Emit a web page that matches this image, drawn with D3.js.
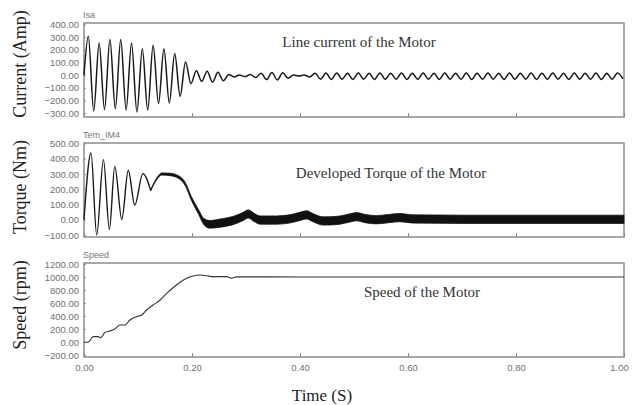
<!DOCTYPE html>
<html>
<head>
<meta charset="utf-8">
<script src="https://cdn.jsdelivr.net/npm/d3@7"></script>
<style>
  body { margin: 0; background: #fff; }
  svg { display: block; }
</style>
</head>
<body>
<div id="chart"></div>
<script>
// time axis
var timeTicks = [0, 0.2, 0.4, 0.6, 0.8, 1.0];

// line current Isa: extremes of each half cycle
var isaT = [0, 0.008, 0.018, 0.028, 0.038, 0.048, 0.058, 0.068, 0.078, 0.088, 0.098,
  0.108, 0.118, 0.128, 0.138, 0.148, 0.158, 0.168, 0.178, 0.188, 0.198,
  0.208, 0.218, 0.228, 0.238, 0.248, 0.258, 0.268, 0.278, 0.288, 0.298,
  0.308, 0.318, 0.328, 0.338, 0.348, 0.358, 0.368, 0.378, 0.388, 0.398,
  0.408, 0.418, 0.428, 0.438, 0.448, 0.458, 0.468, 0.478, 0.488, 0.498,
  0.508, 0.518, 0.528, 0.538, 0.548, 0.558, 0.568, 0.578, 0.588, 0.598,
  0.608, 0.618, 0.628, 0.638, 0.648, 0.658, 0.668, 0.678, 0.688, 0.698,
  0.708, 0.718, 0.728, 0.738, 0.748, 0.758, 0.768, 0.778, 0.788, 0.798,
  0.808, 0.818, 0.828, 0.838, 0.848, 0.858, 0.868, 0.878, 0.888, 0.898,
  0.908, 0.918, 0.928, 0.938, 0.948, 0.958, 0.968, 0.978, 0.988, 0.998];
var isaV = [0, 305, -283, 253, -272, 280, -265, 280, -276, 253, -290,
  208, -276, 234, -224, 208, -220, 170, -166, 103, -67,
  35, -50, 30, -55, 22, -45, 5, -15, 0, -12,
  5, -20, 15, -35, 20, -38, 18, -25, 0, -8,
  0, -15, 14, -32, 16, -34, 17, -33, 15, -34,
  16, -32, 14, -34, 17, -33, 15, -32, 16, -34,
  15, -33, 17, -32, 14, -34, 16, -33, 15, -32,
  17, -34, 15, -33, 16, -32, 14, -34, 17, -33,
  15, -32, 16, -34, 15, -33, 17, -32, 14, -34,
  16, -33, 15, -32, 17, -34, 15, -33, 16, -30];
var isaTicks = [-300, -200, -100, 0, 100, 200, 300, 400];

// developed torque: start-up oscillation, then the thick ripple band
var tqT = [0, 0.013, 0.0235, 0.036, 0.047, 0.057, 0.07, 0.082, 0.094, 0.109, 0.1235];
var tqV = [0, 437, -100, 394, -63, 350, 2, 324, 96, 302, 193];
var bandT = [0.1235, 0.135, 0.144, 0.159, 0.175, 0.187, 0.199, 0.212, 0.222, 0.233,
  0.252, 0.276, 0.295, 0.304, 0.315, 0.326, 0.357, 0.38, 0.4, 0.412,
  0.425, 0.443, 0.47, 0.495, 0.505, 0.52, 0.541, 0.565, 0.585, 0.61,
  0.7, 0.8, 0.9, 1.0];
var bandMid = [193, 270, 300, 297, 280, 237, 139, 52, -12, -30,
  -22, -5, 22, 38, 15, -2, -2, 5, 22, 32,
  12, -8, -4, 14, 20, 8, 0, 8, 14, 5,
  3, 3, 3, 3];
var bandHalf = [4, 6, 7, 8, 9, 10, 12, 15, 20, 25,
  27, 27, 27, 27, 27, 27, 27, 27, 27, 27,
  27, 27, 27, 27, 27, 27, 27, 27, 27, 27,
  27, 27, 27, 27];
var tqTicks = [-100, 0, 100, 200, 300, 400, 500];

// rotor speed
var spT = [0, 0.004, 0.009, 0.017, 0.0265, 0.031, 0.039, 0.048, 0.057, 0.0667, 0.076,
  0.085, 0.0975, 0.107, 0.116, 0.128, 0.141, 0.153, 0.165, 0.178, 0.19,
  0.202, 0.215, 0.227, 0.239, 0.264, 0.273, 0.283, 0.4, 0.6, 0.8, 1.0];
var spV = [-5, -5, 5, 82, 82, 66, 149, 169, 200, 262, 262,
  338, 390, 415, 492, 569, 646, 749, 835, 918, 980,
  1015, 1031, 1020, 1005, 1005, 982, 1002, 1000, 1000, 1000, 1000];
var spTicks = [-200, 0, 200, 400, 600, 800, 1000, 1200];

var w = 632, h = 405;
var serif = "'Liberation Serif', 'Times New Roman', serif";
var sans = "'Liberation Sans', Arial, sans-serif";

var svg = d3.select("#chart").append("svg")
    .attr("width", w)
    .attr("height", h);

var x = d3.scaleLinear().domain([0, 1]).range([84, 624]);

var panels = [
  { top: 23, bottom: 117, domain: [-330, 410], ticks: isaTicks, name: "Isa",
    yTitle: "Current (Amp)", titleY: 64, note: "Line current of the Motor", noteX: 359, noteY: 47 },
  { top: 143, bottom: 237, domain: [-113, 503], ticks: tqTicks, name: "Tem_IM4",
    yTitle: "Torque (Nm)", titleY: 187, note: "Developed Torque of the Motor", noteX: 391, noteY: 178 },
  { top: 263, bottom: 357, domain: [-231, 1215], ticks: spTicks, name: "Speed",
    yTitle: "Speed (rpm)", titleY: 305, note: "Speed of the Motor", noteX: 422, noteY: 297 }
];

panels.forEach(function(p, i) {
    p.y = d3.scaleLinear().domain(p.domain).range([p.bottom, p.top]);

    // left axis
    var ya = svg.append("g")
        .attr("transform", "translate(84,0)")
        .call(d3.axisLeft(p.y).tickValues(p.ticks).tickSizeInner(-2).tickSizeOuter(0)
            .tickPadding(5).tickFormat(d3.format(".2f")));
    ya.select(".domain").remove();
    ya.selectAll("line").attr("stroke", "#999");
    ya.selectAll("text").attr("fill", "#707070").style("font-family", sans).style("font-size", "9.5px");

    // bottom axis
    var xa = svg.append("g")
        .attr("transform", "translate(0," + p.bottom + ")")
        .call(d3.axisBottom(x).tickValues(timeTicks).tickSizeInner(-4).tickSizeOuter(0)
            .tickPadding(7).tickFormat(i == 2 ? d3.format(".2f") : function() { return ""; }));
    xa.select(".domain").remove();
    xa.selectAll("line").attr("stroke", "#888");
    xa.selectAll("text").attr("fill", "#707070").style("font-family", sans).style("font-size", "9.5px")
        .attr("dx", function(d){ return d == 1 ? -5 : 0; });

    // frame
    svg.append("rect")
        .attr("x", 84).attr("y", p.top)
        .attr("width", 540).attr("height", p.bottom - p.top)
        .attr("fill", "none")
        .attr("stroke", "#8c8c8c")
        .attr("stroke-width", 1.5);

    svg.append("text")
        .attr("x", 83).attr("y", p.top - 5)
        .attr("fill", "#777")
        .style("font-family", sans).style("font-size", "9px")
        .text(p.name);

    svg.append("text")
        .attr("transform", "translate(26," + p.titleY + ") rotate(-90)")
        .attr("text-anchor", "middle")
        .attr("fill", "#222")
        .style("font-family", serif).style("font-size", "18px")
        .text(p.yTitle);

    svg.append("text")
        .attr("x", p.noteX).attr("y", p.noteY)
        .attr("text-anchor", "middle")
        .attr("fill", "#333")
        .style("font-family", serif).style("font-size", "15px")
        .text(p.note);
});

// current
var yI = panels[0].y;
svg.append("path")
    .datum(d3.zip(isaT, isaV))
    .attr("fill", "none")
    .attr("stroke", "#1a1a1a")
    .attr("stroke-width", 1.5)
    .attr("d", d3.line()
        .x(function(d){ return x(d[0]); })
        .y(function(d){ return yI(d[1]); })
        .curve(d3.curveMonotoneX));

// torque
var yT = panels[1].y;
svg.append("path")
    .datum(d3.zip(tqT, tqV))
    .attr("fill", "none")
    .attr("stroke", "#1a1a1a")
    .attr("stroke-width", 1.4)
    .attr("d", d3.line()
        .x(function(d){ return x(d[0]); })
        .y(function(d){ return yT(d[1]); })
        .curve(d3.curveMonotoneX));

svg.append("path")
    .datum(d3.zip(bandT, bandMid, bandHalf))
    .attr("fill", "#111")
    .attr("stroke", "#111")
    .attr("stroke-width", 0.8)
    .attr("d", d3.area()
        .x(function(d){ return x(d[0]); })
        .y0(function(d){ return yT(d[1] - d[2]); })
        .y1(function(d){ return yT(d[1] + d[2]); })
        .curve(d3.curveMonotoneX));

// speed
var yS = panels[2].y;
svg.append("path")
    .datum(d3.zip(spT, spV))
    .attr("fill", "none")
    .attr("stroke", "#333")
    .attr("stroke-width", 1.1)
    .attr("d", d3.line()
        .x(function(d){ return x(d[0]); })
        .y(function(d){ return yS(d[1]); })
        .curve(d3.curveMonotoneX));

svg.append("text")
    .attr("x", 322).attr("y", 401)
    .attr("text-anchor", "middle")
    .attr("fill", "#222")
    .style("font-family", serif).style("font-size", "17px")
    .text("Time (S)");
</script>
</body>
</html>
